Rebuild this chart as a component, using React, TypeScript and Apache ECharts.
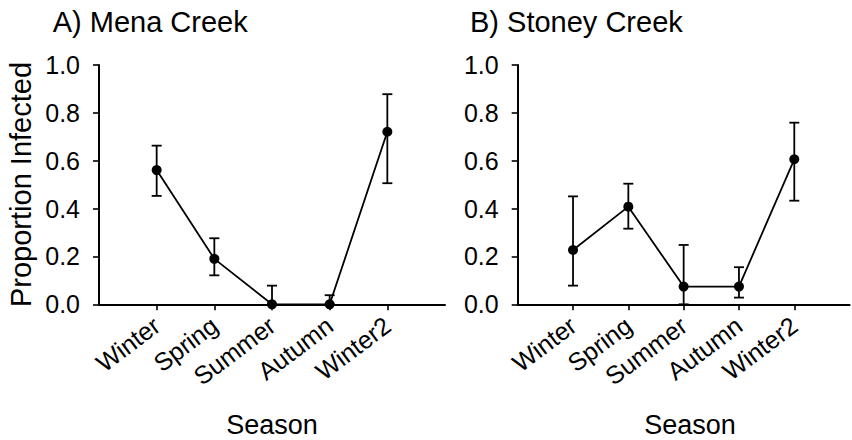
import React, { useEffect, useRef } from 'react';
import * as echarts from 'echarts';

const seasons = ['Winter', 'Spring', 'Summer', 'Autumn', 'Winter2'];
const panelTitles = ['A) Mena Creek', 'B) Stoney Creek'];
const xTitle = 'Season';
const yTitle = 'Proportion Infected';

const menaMean = [0.561, 0.19, 0, 0, 0.721];
const menaLower = [0.453, 0.121, 0, 0, 0.506];
const menaUpper = [0.663, 0.276, 0.078, 0.038, 0.878];

const stoneyMean = [0.227, 0.408, 0.074, 0.074, 0.606];
const stoneyLower = [0.078, 0.316, 0, 0.028, 0.433];
const stoneyUpper = [0.451, 0.504, 0.248, 0.155, 0.759];

const FONT = 'Liberation Sans';

function buildPanel(idx: number, mean: number[], lower: number[], upper: number[]) {
  const errData = mean.map((_, i) => [i + 1, lower[i], upper[i]]);
  const lineData = mean.map((v, i) => [i + 1, v]);
  return [
    {
      type: 'custom',
      xAxisIndex: idx,
      yAxisIndex: idx,
      data: errData,
      encode: { x: 0, y: [1, 2] },
      clip: false,
      z: 2,
      renderItem: (params: any, api: any) => {
        const x = api.value(0);
        const lo = api.coord([x, api.value(1)]);
        const hi = api.coord([x, api.value(2)]);
        const half = 5;
        const st = { stroke: '#000', lineWidth: 1.8 };
        return {
          type: 'group',
          children: [
            { type: 'line', shape: { x1: lo[0], y1: lo[1], x2: hi[0], y2: hi[1] }, style: st },
            { type: 'line', shape: { x1: hi[0] - half, y1: hi[1], x2: hi[0] + half, y2: hi[1] }, style: st },
            { type: 'line', shape: { x1: lo[0] - half, y1: lo[1], x2: lo[0] + half, y2: lo[1] }, style: st },
          ],
        };
      },
    },
    {
      type: 'line',
      xAxisIndex: idx,
      yAxisIndex: idx,
      data: lineData,
      symbol: 'circle',
      symbolSize: 10,
      itemStyle: { color: '#000' },
      lineStyle: { color: '#000', width: 1.8 },
      z: 3,
    },
  ];
}

function axisPair(idx: number) {
  const xAxis = {
    type: 'category',
    gridIndex: idx,
    data: ['', ...seasons, ''],
    boundaryGap: false,
    axisLine: { lineStyle: { color: '#000', width: 2 } },
    axisTick: {
      length: 6,
      interval: (i: number) => i >= 1 && i <= seasons.length,
      lineStyle: { color: '#000', width: 1.6 },
    },
    axisLabel: {
      interval: 0,
      rotate: 37,
      margin: 18,
      fontSize: 25,
      fontFamily: FONT,
      color: '#000',
    },
    splitLine: { show: false },
  };
  const yAxis = {
    type: 'value',
    gridIndex: idx,
    min: 0,
    max: 1,
    interval: 0.2,
    axisLine: { show: true, lineStyle: { color: '#000', width: 2 } },
    axisTick: { show: true, length: 6, lineStyle: { color: '#000', width: 1.6 } },
    axisLabel: {
      margin: 19,
      fontSize: 25,
      fontFamily: FONT,
      color: '#000',
      formatter: (v: number) => v.toFixed(1),
    },
    splitLine: { show: false },
  };
  return { xAxis, yAxis };
}

function textEl(text: string, x: number, y: number, size: number, align: string, rotation = 0) {
  return {
    type: 'text',
    x,
    y,
    rotation,
    style: {
      text,
      fontSize: size,
      fontFamily: FONT,
      fill: '#000',
      align,
      verticalAlign: 'middle',
      textAlign: align,
      textVerticalAlign: 'middle',
    },
  };
}

export default function App() {
  const ref = useRef<HTMLDivElement>(null);
  useEffect(() => {
    if (!ref.current) return;
    const chart = echarts.init(ref.current, undefined, { renderer: 'svg' });
    const a = axisPair(0);
    const b = axisPair(1);
    chart.setOption({
      animation: false,
      backgroundColor: '#fff',
      grid: [
        { left: 99, top: 65, width: 346, height: 239.3, containLabel: false },
        { left: 517.7, top: 65, width: 346, height: 239.3, containLabel: false },
      ],
      xAxis: [a.xAxis, b.xAxis],
      yAxis: [a.yAxis, b.yAxis],
      series: [
        ...buildPanel(0, menaMean, menaLower, menaUpper),
        ...buildPanel(1, stoneyMean, stoneyLower, stoneyUpper),
      ],
      graphic: [
        textEl(panelTitles[0], 52.7, 22.4, 29, 'left'),
        textEl(panelTitles[1], 470, 22.4, 29, 'left'),
        textEl(xTitle, 272, 425, 27, 'center'),
        textEl(xTitle, 690, 425, 27, 'center'),
        textEl(yTitle, 21, 184.5, 29, 'center', Math.PI / 2),
      ],
    });
    return () => chart.dispose();
  }, []);
  return (
    <div
      ref={ref}
      style={{ position: 'absolute', left: 0, top: 0, width: 852, height: 440 }}
    />
  );
}
